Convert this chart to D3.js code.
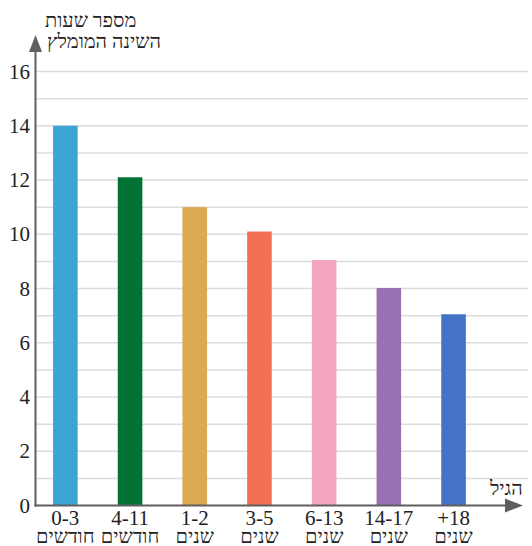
<!DOCTYPE html>
<html><head><meta charset="utf-8">
<script src="https://cdn.jsdelivr.net/npm/d3@7"></script>
<style>html,body{margin:0;padding:0;background:#fff;}svg{display:block;}</style>
</head><body>
<svg id="c" width="532" height="546"></svg>
<script>
const categories = ["0-3", "4-11", "1-2", "3-5", "6-13", "14-17", "+18"];
const units = ["חודשים", "חודשים", "שנים", "שנים", "שנים", "שנים", "שנים"];
const values = [14, 12.1, 11, 10.1, 9.05, 8.02, 7.05];
const colors = ["#3AA4D5", "#007236", "#DBA951", "#F37055", "#F4A3C1", "#9872B2", "#4472C4"];
const yTicks = [0, 2, 4, 6, 8, 10, 12, 14, 16];
const gridValues = d3.range(1, 17);
const yTitle = ["מספר שעות", "השינה המומלץ"];
const xTitle = "הגיל";

const FONT = "Liberation Serif";
const svg = d3.select("#c");
const x0 = 35.5, y0 = 505.5;
const y = d3.scaleLinear().domain([0, 16]).range([y0, 71.5]);
const x = d3.scaleBand().domain(categories).range([33, 33 + 7 * 64.7]).paddingInner(0.62).paddingOuter(0.31);

// gridlines
svg.append("g").selectAll("line").data(gridValues).join("line")
  .attr("x1", x0 + 1).attr("x2", 528)
  .attr("y1", d => y(d)).attr("y2", d => y(d))
  .attr("stroke", "#dcdcdc").attr("stroke-width", 1.5);

// bars
svg.append("g").selectAll("rect").data(values).join("rect")
  .attr("x", (d, i) => x(categories[i]))
  .attr("width", x.bandwidth())
  .attr("y", d => y(d))
  .attr("height", d => y0 - y(d))
  .attr("fill", (d, i) => colors[i]);

// axes
const axisColor = "#5f5f5f";
svg.append("line").attr("x1", x0).attr("x2", x0).attr("y1", y0 + 1).attr("y2", 50)
  .attr("stroke", axisColor).attr("stroke-width", 2);
svg.append("path").attr("d", `M${x0 - 6.5},52 L${x0},35 L${x0 + 6.5},52 Z`).attr("fill", axisColor);
svg.append("line").attr("x1", x0 - 1).attr("x2", 508).attr("y1", y0).attr("y2", y0)
  .attr("stroke", axisColor).attr("stroke-width", 2);
svg.append("path").attr("d", `M505,${y0 - 7} L523,${y0} L505,${y0 + 7} Z`).attr("fill", axisColor);

// y tick labels
const yAxis = d3.axisLeft(y).tickValues(yTicks).tickSize(0).tickPadding(5).tickFormat(d3.format("d"));
const ga = svg.append("g").attr("transform", `translate(${x0 - 0.5},0)`).call(yAxis);
ga.attr("font-family", FONT).attr("font-size", 21);
ga.select(".domain").remove();
ga.selectAll("text").attr("font-size", 21).attr("fill", "#222").attr("font-family", FONT);

// x labels
const xl = svg.append("g").attr("font-family", FONT);
categories.forEach((c, i) => {
  const cx = x(c) + x.bandwidth() / 2;
  xl.append("text").attr("x", cx).attr("y", 525).attr("text-anchor", "middle")
    .attr("font-family", FONT).attr("font-size", 21).attr("fill", "#222").text(c);
  xl.append("text").attr("x", cx).attr("y", 543).attr("text-anchor", "middle")
    .attr("font-family", FONT).attr("font-size", 20).attr("fill", "#222").text(units[i]);
});

// titles
svg.append("text").attr("x", 45).attr("y", 27).attr("font-family", FONT).attr("font-size", 20).attr("fill", "#222").text(yTitle[0]);
svg.append("text").attr("x", 47).attr("y", 48).attr("font-family", FONT).attr("font-size", 20).attr("fill", "#222").text(yTitle[1]);
svg.append("text").attr("x", 490).attr("y", 495).attr("font-family", FONT).attr("font-size", 20).attr("fill", "#222").text(xTitle);
</script>
</body></html>
